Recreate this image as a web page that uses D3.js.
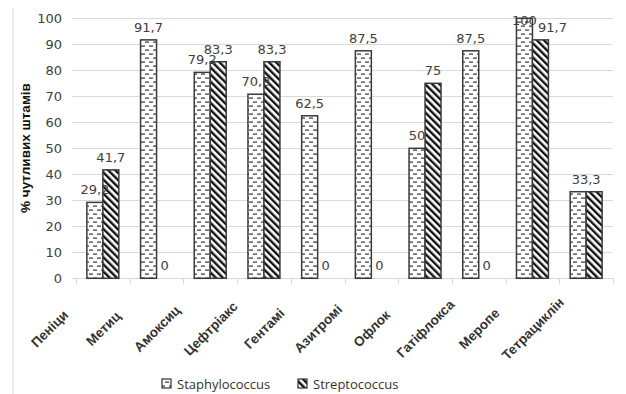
<!DOCTYPE html>
<html><head><meta charset="utf-8">
<script src="https://cdn.jsdelivr.net/npm/d3@7/dist/d3.min.js"></script>
<style>
html,body{margin:0;padding:0;background:#fff;}
svg{display:block;}
</style></head>
<body>
<svg id="chart" width="626" height="394"></svg>
<script>
const categories = ["Пеніци", "Метиц", "Амоксиц", "Цефтріакс", "Гентамі", "Азитромі", "Офлок", "Гатіфлокса", "Меропе", "Тетрациклін"];
const seriesNames = ["Staphylococcus", "Streptococcus"];
const staphValues = [29.2, 91.7, 79.2, 70.8, 62.5, 87.5, 50, 87.5, 100, 33.3];
const strepValues = [41.7, 0, 83.3, 83.3, 0, 0, 75, 0, 91.7, 33.3];
const staphLabels = ["29,2", "91,7", "79,2", "70,8", "62,5", "87,5", "50", "87,5", "100", "33,3"];
const strepLabels = ["41,7", "0", "83,3", "83,3", "0", "0", "75", "0", "91,7", "33,3"];
const yTicks = [0, 10, 20, 30, 40, 50, 60, 70, 80, 90, 100];
const yTitle = "% чутливих штамів";

const svg = d3.select("#chart");
const plotLeft = 76, plotRight = 613, plotTop = 18.3, plotBottom = 278.3;
const x = d3.scaleBand().domain(categories).range([plotLeft, plotRight]).padding(0);
const xs = d3.scaleBand().domain(seriesNames).range([0, x.bandwidth()]).paddingInner(0).paddingOuter(0.68);
const y = d3.scaleLinear().domain([0, 100]).range([plotBottom, plotTop]);

const defs = svg.append("defs");
const p1 = defs.append("pattern").attr("id", "pStaph").attr("patternUnits", "userSpaceOnUse")
  .attr("width", 8).attr("height", 8);
p1.append("rect").attr("width", 8).attr("height", 8).attr("fill", "#fff");
p1.append("rect").attr("x", 1).attr("y", 1.5).attr("width", 4).attr("height", 1.2).attr("fill", "#333");
p1.append("rect").attr("x", 5).attr("y", 5.5).attr("width", 3).attr("height", 1.2).attr("fill", "#333");
p1.append("rect").attr("x", 0).attr("y", 5.5).attr("width", 1).attr("height", 1.2).attr("fill", "#333");
const p2 = defs.append("pattern").attr("id", "pStrep").attr("patternUnits", "userSpaceOnUse")
  .attr("width", 5).attr("height", 5).attr("patternTransform", "rotate(-45)");
p2.append("rect").attr("width", 5).attr("height", 5).attr("fill", "#fff");
p2.append("rect").attr("x", 0).attr("y", 0).attr("width", 2.4).attr("height", 5).attr("fill", "#111");

svg.append("line").attr("x1", 13).attr("x2", 13).attr("y1", 8).attr("y2", 394)
  .attr("stroke", "#d9d9d9").attr("stroke-width", 1);

svg.append("g").selectAll("line").data(yTicks).join("line")
  .attr("x1", plotLeft - 4).attr("x2", plotRight)
  .attr("y1", d => Math.round(y(d)) + 0.5).attr("y2", d => Math.round(y(d)) + 0.5)
  .attr("stroke", "#d9d9d9").attr("stroke-width", 1);

const bounds = categories.map(c => x(c)).concat([plotRight]);
svg.append("g").selectAll("line").data(bounds).join("line")
  .attr("x1", d => Math.round(d) + 0.5).attr("x2", d => Math.round(d) + 0.5)
  .attr("y1", plotBottom).attr("y2", plotBottom + 6)
  .attr("stroke", "#d9d9d9").attr("stroke-width", 1);

svg.append("g").selectAll("text").data(yTicks).join("text")
  .attr("x", 62).attr("y", d => y(d)).attr("dy", "0.36em")
  .attr("text-anchor", "end")
  .attr("font-family", "DejaVu Sans, Verdana, sans-serif").attr("font-size", 13)
  .attr("fill", "#404040").text(d => d);

svg.append("text").attr("transform", "translate(30,148) rotate(-90)")
  .attr("text-anchor", "middle")
  .attr("font-family", "Liberation Sans Narrow, Arial Narrow, sans-serif").attr("font-weight", "bold")
  .attr("font-size", 13.5).attr("fill", "#111").text(yTitle);

const barStyle = sel => sel.attr("stroke", "#3a3a3a").attr("stroke-width", 1.5);
const labelFont = sel => sel.attr("font-family", "DejaVu Sans, Verdana, sans-serif").attr("font-size", 13)
  .attr("fill", "#404040").attr("text-anchor", "middle");
const minLabelY = 25;
const labelY = v => Math.max(y(v) - 8, minLabelY);
const staphClamped = v => y(v) - 8 < minLabelY;

svg.append("g").selectAll("rect").data(categories).join("rect")
  .attr("x", (c) => x(c) + xs(seriesNames[0]))
  .attr("y", (c, i) => y(staphValues[i]))
  .attr("width", xs.bandwidth())
  .attr("height", (c, i) => y(0) - y(staphValues[i]))
  .attr("fill", "url(#pStaph)").call(barStyle);

svg.append("g").selectAll("rect").data(categories).join("rect")
  .attr("x", (c) => x(c) + xs(seriesNames[1]))
  .attr("y", (c, i) => y(strepValues[i]))
  .attr("width", xs.bandwidth())
  .attr("height", (c, i) => y(0) - y(strepValues[i]))
  .attr("fill", "url(#pStrep)").call(barStyle)
  .style("display", (c, i) => strepValues[i] === 0 ? "none" : null);

svg.append("g").selectAll("text").data(categories).join("text")
  .attr("x", (c, i) => x(c) + xs(seriesNames[0]) + xs.bandwidth() / 2)
  .attr("y", (c, i) => labelY(staphValues[i]))
  .text((c, i) => staphValues[i] === strepValues[i] ? "" : staphLabels[i])
  .call(labelFont);

svg.append("g").selectAll("text").data(categories).join("text")
  .attr("x", (c, i) => staphValues[i] === strepValues[i]
    ? x(c) + x.bandwidth() / 2
    : x(c) + xs(seriesNames[1]) + xs.bandwidth() / 2 + (staphClamped(staphValues[i]) ? 12 : 0))
  .attr("y", (c, i) => labelY(strepValues[i]))
  .text((c, i) => strepLabels[i])
  .call(labelFont);

svg.append("g").selectAll("text").data(categories).join("text")
  .attr("transform", c => `translate(${x(c) + x.bandwidth() / 2 - 50},332) rotate(-45)`)
  .attr("text-anchor", "middle")
  .attr("font-family", "Liberation Sans, Arial, sans-serif").attr("font-weight", "bold")
  .attr("font-size", 13.5).attr("fill", "#333").text(c => c);

const legend = svg.append("g");
const legendX = [162, 298];
seriesNames.forEach((s, i) => {
  legend.append("rect").attr("x", legendX[i]).attr("y", 379).attr("width", 9).attr("height", 9)
    .attr("fill", i === 0 ? "url(#pStaph)" : "url(#pStrep)").attr("stroke", "#333").attr("stroke-width", 1.2);
  legend.append("text").attr("x", legendX[i] + 15).attr("y", 388.5)
    .attr("font-family", "Open Sans, sans-serif").attr("font-size", 13).attr("fill", "#333").text(s);
});
</script>
</body></html>
